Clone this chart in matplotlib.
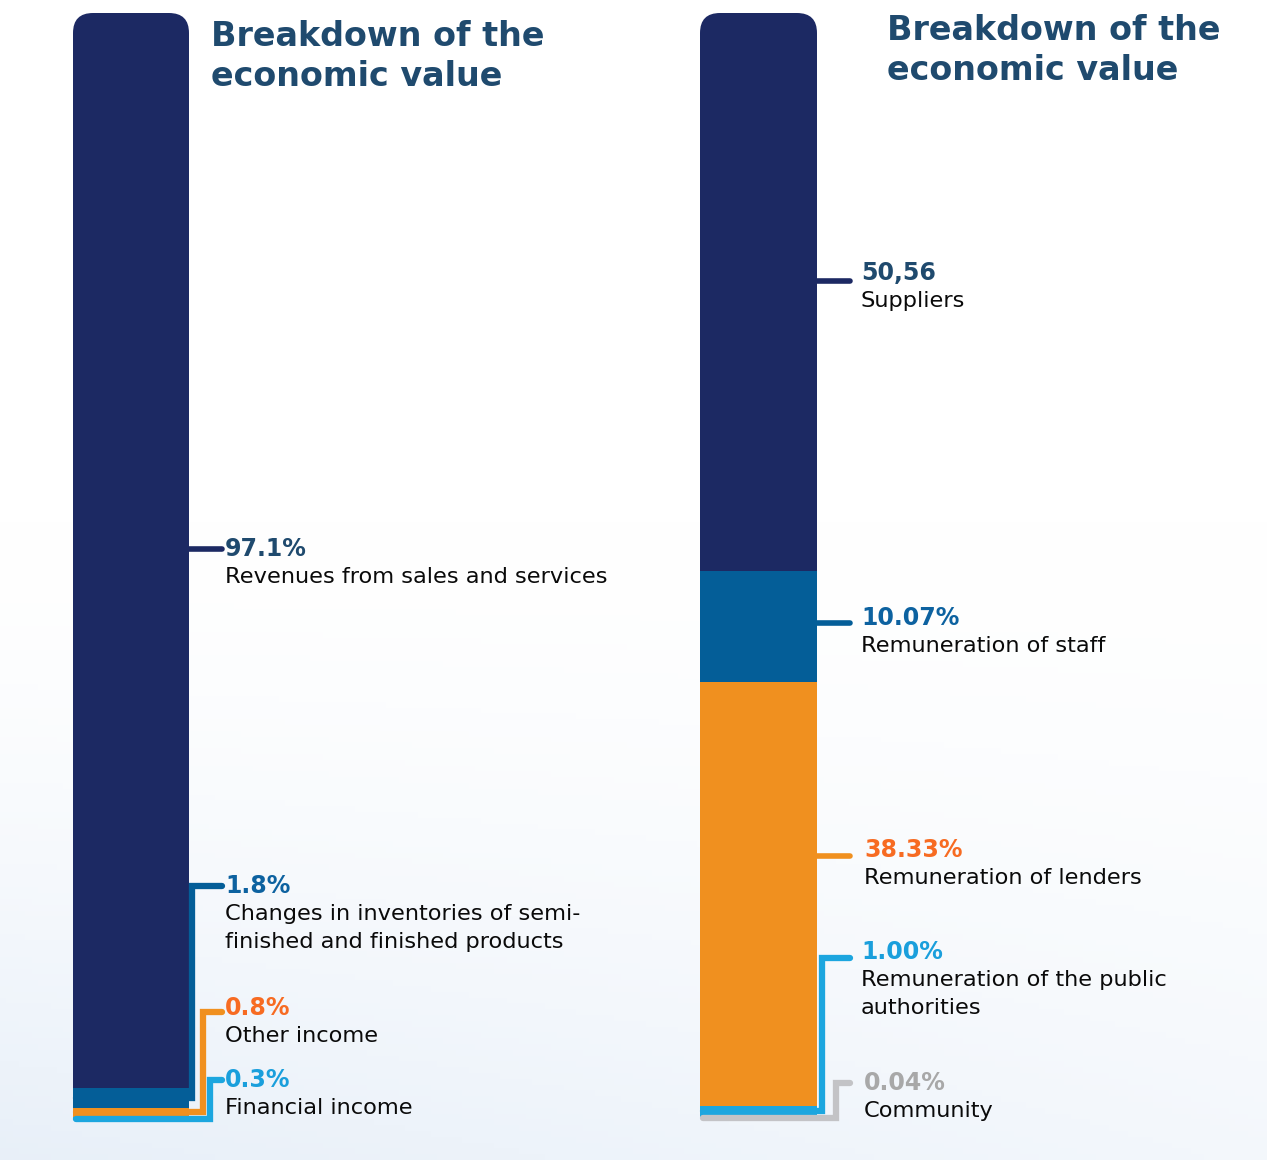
import matplotlib
matplotlib.use("Agg")
import matplotlib.pyplot as plt
from matplotlib.patches import FancyBboxPatch
import numpy as np

### DATA ###

# left bar: sources of the economic value (top to bottom)
in_names = ["Revenues from sales and services",
            "Changes in inventories of semi-\nfinished and finished products",
            "Other income",
            "Financial income"]
in_values = [97.1, 1.8, 0.8, 0.3]
in_labels = ["97.1%", "1.8%", "0.8%", "0.3%"]

# right bar: distribution of the economic value (top to bottom)
out_names = ["Suppliers",
             "Remuneration of staff",
             "Remuneration of lenders",
             "Remuneration of the public\nauthorities",
             "Community"]
out_values = [50.56, 10.07, 38.33, 1.00, 0.04]
out_labels = ["50,56", "10.07%", "38.33%", "1.00%", "0.04%"]

title = "Breakdown of the\neconomic value"

### STYLE / LAYOUT ###

W, H = 1267, 1160
TOP = 13
NAVY = "#1c2963"
BLUE = "#045e98"
ORANGE = "#f0901f"
CYAN = "#1ca6df"
GREY = "#c3c3c6"
TXT_COLORS = {NAVY: "#1f4a6e", BLUE: "#0d62a0", ORANGE: "#f76b22",
              CYAN: "#1a9fdc", GREY: "#a8a8a8"}

in_colors = [NAVY, BLUE, ORANGE, CYAN]
out_colors = [NAVY, BLUE, ORANGE, CYAN, GREY]

# per label: (y of leader px, y of value text px, bracket x or None, text shift px)
in_layout = [(549, 549, None, 0), (886, 886, 192, 0), (1012, 1008, 203, 0),
             (1080, 1080, 210, 0)]
out_layout = [(281, 273, None, 0), (623, 618, None, 0), (856, 850, None, 3),
              (958, 952, 822, 0), (1083, 1083, 836, 3)]

plt.rcParams['font.family'] = ['DejaVu Sans']

### FUNCTIONS ###

def drawPanel(ax, x0, x1, bottom_px, values, colors, labels, names, layout,
              line_end, text_x, title_x, title_y):
    ypp = 100.0 / (bottom_px - TOP)
    ax.set_xlim(0, W)
    ax.set_ylim(-(H - bottom_px) * ypp, 100 + TOP * ypp)
    ax.axis("off")

    def py(p):
        return (bottom_px - p) * ypp

    # stacked from the bottom up
    n = len(values)
    bottoms = [sum(values[i + 1:]) for i in range(n)]
    clip = FancyBboxPatch((x0, -20), x1 - x0, 120,
                          boxstyle="round,pad=0,rounding_size=20",
                          mutation_aspect=ypp, transform=ax.transData)
    bars = ax.bar((x0 + x1) / 2, values, width=x1 - x0, bottom=bottoms,
                  color=colors, linewidth=0, zorder=2)
    for b in bars:
        b.set_clip_path(clip)

    lw = 7 * 72 / 100.0
    lw_data = 7 * ypp
    prev = None
    for i in range(n):
        ly, ty, bx, dx = layout[i]
        c = colors[i]
        if bx is None:
            ax.plot([x1, line_end], [py(ly), py(ly)], color=c, lw=lw * 0.8,
                    solid_capstyle="round", zorder=1)
        else:
            mid = bottoms[i] + values[i] / 2
            by = mid if prev is None else min(mid, prev - lw_data)
            prev = by
            ax.plot([x0 + 3, bx, bx, line_end], [by, by, py(ly), py(ly)],
                    color=c, lw=lw * 0.9, solid_capstyle="round",
                    solid_joinstyle="miter", zorder=3 + i)
        ax.text(text_x + dx, py(ty), labels[i], color=TXT_COLORS[c], fontsize=17,
                fontweight="bold", va="center", ha="left", zorder=10)
        for k, line in enumerate(names[i].split("\n")):
            ax.text(text_x + dx, py(ty + 28 * (k + 1)), line, color="#0a0a0a",
                    fontsize=16.2, va="center", ha="left", zorder=10)

    for k, line in enumerate(title.split("\n")):
        ax.text(title_x, py(title_y + 40 * k), line, color="#1f4a6e",
                fontsize=24, fontweight="bold", va="center", ha="left")

### MAIN PROGRAM ###

fig = plt.figure(figsize=(W / 100, H / 100), dpi=100)

# faint bluish haze in the lower part of the page
bg = fig.add_axes([0, 0, 1, 1])
bg.axis("off")
yy, xx = np.mgrid[0:1:200j, 0:1:200j]
haze = np.clip((yy - 0.45) / 0.55, 0, 1) ** 1.5 * (1 - 0.5 * xx)
base = np.array([1.0, 1.0, 1.0])
tint = np.array([0.91, 0.94, 0.975])
img = base + (tint - base) * haze[..., None]
bg.imshow(img, extent=[0, 1, 0, 1], origin="upper", aspect="auto")
bg.set_xlim(0, 1)
bg.set_ylim(0, 1)

axL = fig.add_axes([0, 0, 1, 1])
axL.patch.set_alpha(0)
drawPanel(axL, 73, 189, 1120, in_values, in_colors, in_labels, in_names,
          in_layout, 222, 225, 211, 37)

axR = fig.add_axes([0, 0, 1, 1])
axR.patch.set_alpha(0)
drawPanel(axR, 700, 817, 1117, out_values, out_colors, out_labels, out_names,
          out_layout, 850, 861, 887, 30)

fig.savefig("out.png", dpi=100)
